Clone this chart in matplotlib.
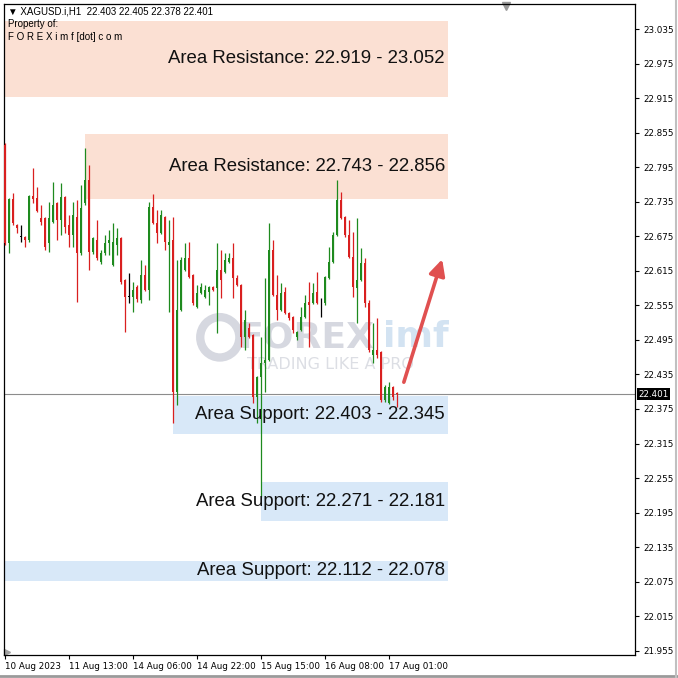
import numpy as np
import matplotlib
matplotlib.use("Agg")
import matplotlib.pyplot as plt
from matplotlib.patches import Rectangle, Circle

# XAGUSD H1 candles (open, high, low, close)
opens = [22.834, 22.664, 22.740, 22.695, 22.674, 22.674, 22.669, 22.745, 22.742, 22.707,
         22.707, 22.664, 22.700, 22.733, 22.704, 22.744, 22.695, 22.678, 22.709, 22.646,
         22.733, 22.773, 22.648, 22.669, 22.631, 22.646, 22.664, 22.625, 22.660, 22.672,
         22.599, 22.570, 22.570, 22.587, 22.565, 22.608, 22.582, 22.726, 22.698, 22.681,
         22.709, 22.660, 22.669, 22.405, 22.547, 22.617, 22.638, 22.608, 22.552, 22.577,
         22.570, 22.578, 22.587, 22.585, 22.617, 22.613, 22.631, 22.638, 22.603, 22.591,
         22.500, 22.516, 22.504, 22.396, 22.431, 22.455, 22.460, 22.652, 22.573, 22.547,
         22.578, 22.542, 22.535, 22.500, 22.512, 22.535, 22.561, 22.559, 22.578, 22.559,
         22.559, 22.603, 22.631, 22.678, 22.738, 22.709, 22.678, 22.639, 22.585, 22.599,
         22.629, 22.559, 22.469, 22.478, 22.474, 22.391, 22.385, 22.413, 22.403]
highs = [22.838, 22.742, 22.751, 22.697, 22.695, 22.676, 22.747, 22.794, 22.761, 22.730,
         22.709, 22.735, 22.770, 22.735, 22.768, 22.746, 22.712, 22.735, 22.738, 22.765,
         22.829, 22.799, 22.674, 22.704, 22.652, 22.678, 22.686, 22.698, 22.690, 22.674,
         22.601, 22.612, 22.596, 22.591, 22.634, 22.625, 22.735, 22.749, 22.721, 22.721,
         22.711, 22.704, 22.709, 22.634, 22.639, 22.664, 22.665, 22.610, 22.591, 22.594,
         22.591, 22.589, 22.589, 22.664, 22.652, 22.646, 22.646, 22.664, 22.608, 22.593,
         22.547, 22.525, 22.506, 22.433, 22.500, 22.603, 22.698, 22.669, 22.608, 22.594,
         22.587, 22.544, 22.537, 22.511, 22.552, 22.573, 22.596, 22.594, 22.613, 22.568,
         22.607, 22.657, 22.683, 22.773, 22.752, 22.711, 22.704, 22.683, 22.707, 22.655,
         22.638, 22.565, 22.525, 22.533, 22.476, 22.417, 22.422, 22.415, 22.405]
lows = [22.660, 22.646, 22.695, 22.681, 22.665, 22.657, 22.665, 22.733, 22.717, 22.695,
        22.652, 22.648, 22.698, 22.669, 22.678, 22.681, 22.657, 22.657, 22.561, 22.643,
        22.730, 22.617, 22.645, 22.634, 22.627, 22.643, 22.643, 22.623, 22.643, 22.592,
        22.509, 22.559, 22.544, 22.561, 22.559, 22.580, 22.565, 22.696, 22.664, 22.679,
        22.652, 22.544, 22.351, 22.382, 22.545, 22.615, 22.603, 22.556, 22.550, 22.575,
        22.568, 22.556, 22.580, 22.507, 22.568, 22.611, 22.629, 22.568, 22.589, 22.483,
        22.478, 22.498, 22.385, 22.351, 22.222, 22.405, 22.458, 22.571, 22.530, 22.545,
        22.540, 22.530, 22.507, 22.495, 22.510, 22.533, 22.483, 22.557, 22.557, 22.535,
        22.556, 22.601, 22.629, 22.676, 22.705, 22.674, 22.637, 22.570, 22.525, 22.597,
        22.552, 22.474, 22.455, 22.464, 22.387, 22.387, 22.383, 22.391, 22.378]
closes = [22.664, 22.740, 22.698, 22.690, 22.674, 22.669, 22.745, 22.740, 22.719, 22.700,
          22.657, 22.707, 22.730, 22.704, 22.744, 22.692, 22.678, 22.712, 22.646, 22.725,
          22.773, 22.648, 22.672, 22.638, 22.646, 22.664, 22.669, 22.665, 22.672, 22.596,
          22.570, 22.570, 22.582, 22.566, 22.608, 22.582, 22.726, 22.698, 22.681, 22.712,
          22.665, 22.665, 22.405, 22.547, 22.634, 22.638, 22.605, 22.559, 22.577, 22.587,
          22.582, 22.587, 22.582, 22.617, 22.599, 22.634, 22.638, 22.603, 22.591, 22.500,
          22.530, 22.500, 22.396, 22.431, 22.455, 22.460, 22.652, 22.573, 22.547, 22.577,
          22.542, 22.533, 22.512, 22.509, 22.535, 22.559, 22.556, 22.577, 22.559, 22.559,
          22.605, 22.631, 22.678, 22.738, 22.707, 22.678, 22.639, 22.587, 22.599, 22.629,
          22.559, 22.478, 22.478, 22.469, 22.391, 22.413, 22.413, 22.396, 22.401]

tick_bars = [0, 16, 32, 48, 64, 80, 96]
tick_labels = ["10 Aug 2023", "11 Aug 13:00", "14 Aug 06:00", "14 Aug 22:00",
               "15 Aug 15:00", "16 Aug 08:00", "17 Aug 01:00"]
price_ticks = [21.955, 22.015, 22.075, 22.135, 22.195, 22.255, 22.315, 22.375,
               22.435, 22.495, 22.555, 22.615, 22.675, 22.735, 22.795, 22.855,
               22.915, 22.975, 23.035]

# zones: label, low, high, starting bar
zone_names = ["Area Resistance: 22.919 - 23.052", "Area Resistance: 22.743 - 22.856",
              "Area Support: 22.403 - 22.345", "Area Support: 22.271 - 22.181",
              "Area Support: 22.112 - 22.078"]
zone_low = [22.918, 22.740, 22.332, 22.180, 22.076]
zone_high = [23.050, 22.853, 22.398, 22.248, 22.111]
zone_start = [0, 20, 42, 64, 0]
zone_kind = ["res", "res", "sup", "sup", "sup"]
last_price = 22.401

fig = plt.figure(figsize=(6.78, 6.78), dpi=100)
fig.patch.set_facecolor("white")
ax = fig.add_axes([4 / 678, 23 / 678, 631 / 678, 651 / 678])
ax.set_xlim(-0.25, 157.5)
ax.set_ylim(21.9472, 23.0793)

# zones
zone_end = 110.75
for name, lo, hi, x0, kind in zip(zone_names, zone_low, zone_high, zone_start, zone_kind):
    col = "#fbe0d3" if kind == "res" else "#d8e8f8"
    ax.add_patch(Rectangle((x0, lo), zone_end - x0, hi - lo, facecolor=col,
                           edgecolor="none", zorder=1))
    ax.text(110, (lo + hi) / 2, name, ha="right", va="center", fontsize=13.4,
            family="Liberation Sans", color="#111111", zorder=6)

# watermark
ax.add_patch(Circle((0.342, 0.488), 0.031, transform=ax.transAxes, facecolor="none",
                    edgecolor="#d6d8e0", lw=6, zorder=2))
ax.text(0.372, 0.488, "FOREX", transform=ax.transAxes, fontsize=26, fontweight="bold",
        color="#d6d8e0", va="center", ha="left", zorder=2)
ax.text(0.60, 0.488, "imf", transform=ax.transAxes, fontsize=26, fontweight="bold",
        color="#d3e3f2", va="center", ha="left", zorder=2)
ax.text(0.385, 0.447, "TRADING LIKE A PRO", transform=ax.transAxes, fontsize=11.5,
        color="#dcdee4", va="center", ha="left", zorder=2)

# candles
idx = np.arange(len(opens))
o = np.array(opens)
c = np.array(closes)
cols = []
for a, b in zip(o, c):
    if b > a:
        cols.append("#1e8a1e")
    elif b < a:
        cols.append("#d91f1f")
    else:
        cols.append("black")
ax.vlines(idx, lows, highs, colors=cols, lw=0.9, zorder=3)
body = np.maximum(np.abs(c - o), 0.0012)
ax.bar(idx, body, bottom=np.minimum(o, c), width=0.72, color=cols, zorder=4)

# current price line
ax.axhline(last_price, color="#8c8c8c", lw=0.8, zorder=2)

# arrow
ax.annotate("", xy=(109.5, 22.640), xytext=(99.5, 22.417),
            arrowprops=dict(arrowstyle="-|>", color="#e05050", lw=2.6,
                            mutation_scale=24), zorder=7)

# axes styling
for s in ax.spines.values():
    s.set_color("black")
    s.set_linewidth(0.9)
ax.yaxis.tick_right()
ax.set_yticks(price_ticks)
ax.set_yticklabels(["%.3f" % v for v in price_ticks])
ax.set_xticks(tick_bars)
ax.set_xticklabels(tick_labels, ha="left")
ax.tick_params(axis="both", labelsize=6.3, length=3, width=0.8, direction="out",
               pad=2, colors="black")
ax.tick_params(axis="y", pad=3)

ax.text(1.005, last_price, "%.3f" % last_price, transform=ax.get_yaxis_transform(),
        fontsize=6.3, color="white", va="center", ha="left",
        bbox=dict(boxstyle="square,pad=0.15", facecolor="black", edgecolor="none"),
        zorder=10, clip_on=False)

# header
hdr = dict(transform=ax.transAxes, fontsize=7, va="center", ha="left",
           family=["Liberation Sans", "DejaVu Sans"], zorder=6)
ax.text(0.006, 0.988, "\u25bc XAGUSD.i,H1  22.403 22.405 22.378 22.401", **hdr)
ax.text(0.006, 0.969, "Property of:", **hdr)
ax.text(0.006, 0.949, "F O R E X i m f [dot] c o m", **hdr)

# small markers
ax.plot([0.796], [0.997], marker="v", color="#9a9a9a", ms=6, transform=ax.transAxes,
        clip_on=False)
ax.plot([0.004], [0.004], marker=">", color="#a0a0a0", ms=5, transform=ax.transAxes,
        clip_on=False)

# outer frame
fig.add_artist(plt.Line2D([0, 1], [2 / 678, 2 / 678], color="#9a9a9a", lw=2,
                          transform=fig.transFigure))
fig.add_artist(plt.Line2D([676 / 678, 676 / 678], [0, 1], color="#c0c0c0", lw=1.5,
                          transform=fig.transFigure))

fig.savefig("out.png", dpi=100)
